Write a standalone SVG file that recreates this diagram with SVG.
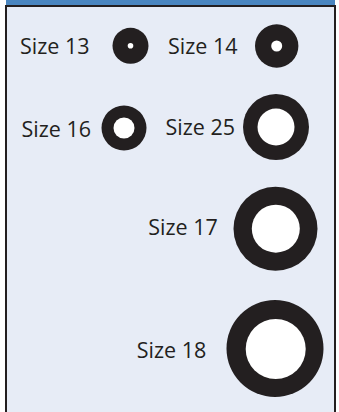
<svg xmlns="http://www.w3.org/2000/svg" width="339" height="412" viewBox="0 0 339 412">
<style>
.lbl{font-family:"Open Sans","Noto Sans",sans-serif;font-size:21.5px;fill:#231f20}
.ring{fill:#231f20}
.hole{fill:#ffffff}
</style>
<rect x="0" y="0" width="339" height="412" fill="#ffffff"/>
<rect x="6" y="0" width="329" height="6" fill="#4a86c0"/>
<rect x="6" y="6" width="329" height="406" fill="#e7ecf6"/>
<path d="M6 412 V6 H335 V412" fill="none" stroke="#231f20" stroke-width="2"/>
<g id="size13">
<text class="lbl" x="20" y="53.5">Size 13</text>
<circle class="ring" cx="130.5" cy="45.8" r="18"/>
<circle class="hole" cx="130.5" cy="45.8" r="2.8"/>
</g>
<g id="size14">
<text class="lbl" x="168" y="53.5">Size 14</text>
<circle class="ring" cx="276.7" cy="46" r="21.7"/>
<circle class="hole" cx="276.7" cy="46" r="5.5"/>
</g>
<g id="size16">
<text class="lbl" x="21.5" y="136.5">Size 16</text>
<circle class="ring" cx="124" cy="128" r="22.5"/>
<circle class="hole" cx="124" cy="128" r="10.5"/>
</g>
<g id="size25">
<text class="lbl" x="165.5" y="135">Size 25</text>
<circle class="ring" cx="276" cy="127" r="33"/>
<circle class="hole" cx="276" cy="127" r="18.5"/>
</g>
<g id="size17">
<text class="lbl" x="148.3" y="235">Size 17</text>
<circle class="ring" cx="275.5" cy="228.7" r="42"/>
<circle class="hole" cx="275.8" cy="228.7" r="24"/>
</g>
<g id="size18">
<text class="lbl" x="136.7" y="358.3">Size 18</text>
<circle class="ring" cx="275" cy="348.5" r="48.5"/>
<circle class="hole" cx="275.7" cy="349" r="30"/>
</g>
</svg>
